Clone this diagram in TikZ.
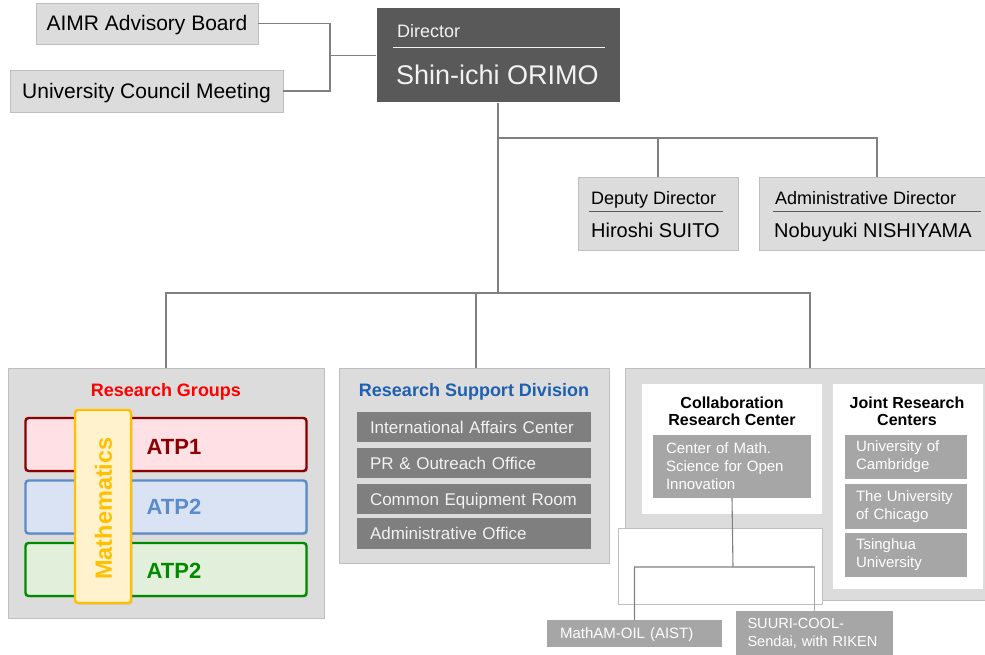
\documentclass[tikz,border=0pt]{standalone}
\usepackage{fontspec}
\setmainfont{Liberation Sans}
\usetikzlibrary{shadows}
\definecolor{orgline}{HTML}{808080}
\definecolor{orglight}{HTML}{DCDCDC}
\definecolor{orgedge}{HTML}{BFBFBF}
\definecolor{orgdark}{HTML}{595959}
\definecolor{orgmid}{HTML}{7F7F7F}
\definecolor{orgsoft}{HTML}{A6A6A6}
\definecolor{textlight}{HTML}{F2F2F2}
\definecolor{groupred}{HTML}{FF0000}
\definecolor{supportblue}{HTML}{1F5FB0}
\definecolor{atpred}{HTML}{8B0000}
\definecolor{atpredfill}{HTML}{FFE0E5}
\definecolor{atpblue}{HTML}{5B8BC9}
\definecolor{atpbluefill}{HTML}{DAE3F3}
\definecolor{atpgreen}{HTML}{008A00}
\definecolor{atpgreenfill}{HTML}{E2EFDA}
\definecolor{mathyellow}{HTML}{FFC000}
\definecolor{mathfill}{HTML}{FFF2CC}
\newcommand{\pxfont}[2]{\fontsize{#1}{#2}\selectfont}

\begin{document}
\begin{tikzpicture}[
  x=1pt, y=-1pt,
  link/.style={draw=orgline, line width=1.8pt},
  sublink/.style={draw=orgline, line width=1.1pt},
  member/.style={draw=orgedge, fill=orglight, line width=0.6pt, inner sep=0pt,
    text height=15pt, text depth=0pt, font=\pxfont{21}{25}},
  officer/.style={draw=orgedge, fill=orglight, line width=0.6pt, inner sep=0pt},
  role/.style={anchor=west, inner sep=0pt, text height=12.9pt, text depth=0pt,
    font=\pxfont{18}{21}},
  person/.style={anchor=west, inner sep=0pt, text height=14.3pt, text depth=0pt,
    font=\pxfont{20}{24}},
  panel/.style={draw=orgedge, fill=orglight, line width=0.6pt, inner sep=0pt},
  heading/.style={inner sep=0pt, text height=12.9pt, text depth=0pt,
    font=\pxfont{18}{21}\bfseries},
  subheading/.style={inner sep=0pt, align=center, font=\pxfont{16}{17}\bfseries},
  unit/.style={fill=orgmid, text=textlight, inner sep=0pt, inner xsep=13pt,
    text width=208pt, minimum height=30pt, align=left,
    text height=12.2pt, text depth=0pt, font=\pxfont{17}{20}},
  centre/.style={fill=orgsoft, text=white, inner sep=0pt, inner xsep=13pt,
    align=left, font=\pxfont{15}{18}},
  atp/.style={rounded corners=3pt, line width=2.4pt, minimum width=281pt,
    minimum height=53pt, inner sep=0pt,
    drop shadow={shadow xshift=1.5pt, shadow yshift=-1.5pt, opacity=0.25}},
  atplabel/.style={inner sep=0pt, text height=15.75pt, text depth=0pt,
    font=\pxfont{22}{26}\bfseries}
]
\useasboundingbox (0,0) rectangle (985,655);

\node[member, minimum width=222pt, minimum height=41pt] (aimr) at (147,23.5)
  {AIMR Advisory Board};
\node[member, minimum width=273pt, minimum height=42pt] (council) at (146.5,91)
  {University Council Meeting};

\node[fill=orgdark, minimum width=243pt, minimum height=94pt, inner sep=0pt]
  (dir) at (498,55.5) {};
\node[role, text=textlight] (dirrole) at (397,31) {Director};
\draw[textlight, line width=1pt] (393,48) -- (605,48);
\node[person, text=textlight, text height=19.3pt, font=\pxfont{27}{30}]
  (dirname) at (396,75) {Shin-ichi ORIMO};

\node[officer, minimum width=160pt, minimum height=73pt] (deputy) at (658,213.5) {};
\node[role] (deputyrole) at (591,198) {Deputy Director};
\draw[orgdark, line width=0.8pt] (589,211) -- (723,211);
\node[person] (deputyname) at (591,230) {Hiroshi SUITO};

\node[officer, minimum width=226pt, minimum height=73pt] (admin) at (872,213.5) {};
\node[role] (adminrole) at (775,198) {Administrative Director};
\draw[orgdark, line width=0.8pt] (773,211) -- (981,211);
\node[person] (adminname) at (774,230) {Nobuyuki NISHIYAMA};

\coordinate (boardsplit) at (330,55.5);
\draw[link] (aimr.east) -| (boardsplit) |- (council.east);
\draw[link] (boardsplit) -- (dir.west);

\coordinate (dirsplit) at (498,138);
\coordinate (mainsplit) at (498,293);
\draw[link] (dir.south) -- (mainsplit);
\draw[link] (dirsplit) -| (deputy.north);
\draw[link] (dirsplit) -| ([xshift=5pt]admin.north);

\node[panel, minimum width=316pt, minimum height=250pt] (groups) at (166,493) {};
\node[panel, minimum width=270pt, minimum height=195pt] (support) at (474,465.5) {};
\node[panel, minimum width=360pt, minimum height=232pt] (partners) at (805,484) {};

\draw[link] (mainsplit) -| (groups.north);
\draw[link] (mainsplit) -| ([xshift=2pt]support.north);
\draw[link] (mainsplit) -| ([xshift=5pt]partners.north);

\node[heading, text=groupred] (groupstitle) at (166,390) {Research Groups};
\node[atp, draw=atpred, fill=atpredfill] (atp1) at (166,444.5) {};
\node[atp, draw=atpblue, fill=atpbluefill] (atp2) at (166,507) {};
\node[atp, draw=atpgreen, fill=atpgreenfill] (atp3) at (166,569.5) {};
\node[atplabel, text=atpred] (atp1txt) at (174,446.5) {ATP1};
\node[atplabel, text=atpblue] (atp2txt) at (174,507) {ATP2};
\node[atplabel, text=atpgreen] (atp3txt) at (174,570.5) {ATP2};
\node[rounded corners=3pt, line width=2.4pt, draw=mathyellow, fill=mathfill,
  minimum width=56pt, minimum height=193pt, inner sep=0pt,
  drop shadow={shadow xshift=1.5pt, shadow yshift=-1.5pt, opacity=0.25}]
  (maths) at (103,506.5) {};
\node[inner sep=0pt, rotate=90, text=mathyellow, text height=16.8pt, text depth=0pt,
  font=\pxfont{23.5}{26}\bfseries] (mathstxt) at (103.5,508.5) {Mathematics};

\node[heading, text=supportblue] (supporttitle) at (474,390)
  {Research Support Division};
\node[unit] (intl) at (474,427) {International Affairs Center};
\node[unit] (proffice) at (474,463) {PR \& Outreach Office};
\node[unit] (equip) at (474,499) {Common Equipment Room};
\node[unit, minimum height=31pt] (adminoffice) at (474,533.5) {Administrative Office};

\node[fill=white, draw=orgedge, line width=0.6pt, minimum width=204pt,
  minimum height=76pt, inner sep=0pt] (openarea) at (720,566) {};
\node[fill=white, minimum width=180pt, minimum height=130pt, inner sep=0pt]
  (collab) at (732,449) {};
\node[subheading] (collabtitle) at (732,411) {Collaboration\\Research Center};
\node[centre, text width=132pt, minimum height=63pt] (cmath) at (732,466.5)
  {Center of Math.\\Science for Open\\Innovation};

\node[fill=white, minimum width=150pt, minimum height=205pt, inner sep=0pt]
  (joint) at (908,486.5) {};
\node[subheading] (jointtitle) at (907,411) {Joint Research\\Centers};
\node[centre, inner xsep=11pt, text width=100pt, minimum height=44pt]
  (cambridge) at (906,457) {University of\\Cambridge};
\node[centre, inner xsep=11pt, text width=100pt, minimum height=45pt]
  (chicago) at (906,506.5) {The University\\of Chicago};
\node[centre, inner xsep=11pt, text width=100pt, minimum height=44pt]
  (tsinghua) at (906,555) {Tsinghua\\University};

\node[centre, text width=149pt, minimum height=27pt, text height=10.7pt,
  text depth=0pt] (mathamoil) at (634.5,633.5) {MathAM-OIL (AIST)};
\node[centre, inner xsep=11.5pt, text width=134pt, minimum height=44pt,
  font=\pxfont{14.6}{18}] (suuri) at (814.5,633) {SUURI-COOL-\\Sendai, with RIKEN};

\coordinate (cmsplit) at (733,567);
\draw[sublink] (cmath.south) -- (cmsplit) -| (mathamoil.north);
\draw[sublink, draw=orgsoft] (cmsplit) -| (suuri.north);
\end{tikzpicture}
\end{document}
